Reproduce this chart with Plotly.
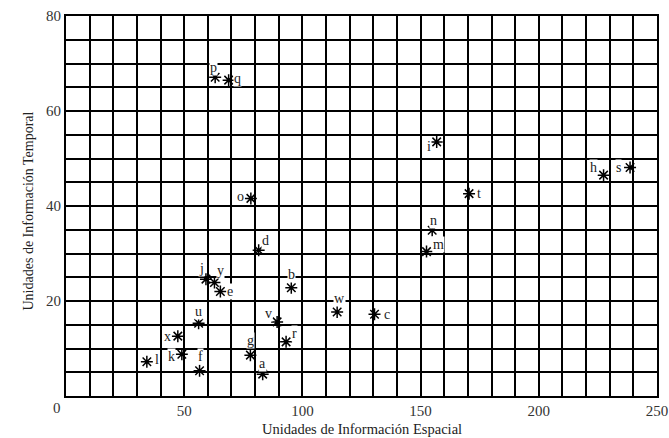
import plotly.graph_objects as go

labels = ["a", "b", "c", "d", "e", "f", "g", "h", "i", "j", "k", "l", "m",
          "n", "o", "p", "q", "r", "s", "t", "u", "v", "w", "x", "y"]
spatial = [83.2, 95.3, 130.5, 81.5, 65.3, 56.5, 78.0, 227.4, 156.8, 59.2, 49.0, 34.2, 152.5,
           154.9, 78.2, 63.1, 68.8, 93.1, 238.6, 170.5, 56.1, 89.3, 114.7, 47.3, 62.8]
temporal = [4.6, 22.8, 17.2, 30.7, 22.0, 5.3, 8.6, 46.5, 53.5, 24.6, 8.8, 7.2, 30.4,
            34.9, 41.6, 67.1, 66.5, 11.4, 48.1, 42.6, 15.3, 15.6, 17.7, 12.6, 23.9]
x_ticks = [50, 100, 150, 200, 250]
y_ticks = [20, 40, 60, 80]
x_title = "Unidades de Información Espacial"
y_title = "Unidades de Información Temporal"

# label offsets in pixels (style only)
label_offset = {
    "a": (0, 11), "b": (0, 13), "c": (12, 0), "d": (7, 10), "e": (10, 0),
    "f": (1, 14), "g": (0, 15), "h": (-10, 8), "i": (-8, -5), "j": (-4, 11),
    "k": (-10, -2), "l": (10, 2), "m": (12, 7), "n": (1, 10), "o": (-10, 2),
    "p": (-2, 10), "q": (9, 2), "r": (8, 8), "s": (-12, 0), "t": (10, 0),
    "u": (0, 12), "v": (-9, 8), "w": (2, 13), "x": (-10, 0), "y": (6, 12),
}

FONT = "Liberation Serif, Times New Roman, serif"
TXT = "#222"
TICK = "#333"

fig = go.Figure()
fig.add_trace(go.Scatter(
    x=spatial, y=temporal, mode="markers",
    marker=dict(symbol="asterisk-open", size=10, color="black",
                line=dict(color="black", width=1.5)),
    hoverinfo="text", text=labels, showlegend=False,
))

annotations = []
for lab, xv, yv in zip(labels, spatial, temporal):
    dx, dy = label_offset[lab]
    annotations.append(dict(
        x=xv, y=yv, xref="x", yref="y", text=lab, showarrow=False,
        xshift=dx, yshift=dy, font=dict(family=FONT, size=14, color=TXT),
        bgcolor="white", borderpad=0,
    ))
annotations.append(dict(
    x=0, y=0, xref="x", yref="y", text="0", showarrow=False,
    xshift=-9, yshift=-12, font=dict(family=FONT, size=15, color=TICK),
))
annotations.append(dict(
    x=0.5, y=0, xref="paper", yref="y", text=x_title, showarrow=False,
    yshift=-33, font=dict(family=FONT, size=14.5, color=TXT),
))
annotations.append(dict(
    x=0, y=0.5, xref="paper", yref="paper", text=y_title, showarrow=False,
    textangle=-90, xshift=-48, yshift=-5, font=dict(family=FONT, size=14, color=TXT),
))

fig.update_layout(
    width=669, height=438,
    margin=dict(l=66, r=12, t=16, b=42, autoexpand=False),
    paper_bgcolor="white", plot_bgcolor="white",
    font=dict(family=FONT, size=15, color=TICK),
    annotations=annotations,
    xaxis=dict(
        range=[0, 250], tickmode="array", tickvals=x_ticks, automargin=False,
        showgrid=True, gridcolor="black", gridwidth=1.5,
        minor=dict(dtick=10, tick0=0, showgrid=True, gridcolor="black", gridwidth=1.5),
        showline=True, linecolor="black", linewidth=2, mirror=True,
        zeroline=False, ticks="",
        tickfont=dict(family=FONT, size=15, color=TICK),
    ),
    yaxis=dict(
        range=[0, 80], tickmode="array", tickvals=y_ticks, automargin=False,
        showgrid=True, gridcolor="black", gridwidth=1.5,
        minor=dict(dtick=5, tick0=0, showgrid=True, gridcolor="black", gridwidth=1.5),
        showline=True, linecolor="black", linewidth=2, mirror=True,
        zeroline=False, ticks="",
        tickfont=dict(family=FONT, size=15, color=TICK),
    ),
)

fig.write_html("out.html", config={"displayModeBar": False},
               post_script="document.body.style.margin='0';")
